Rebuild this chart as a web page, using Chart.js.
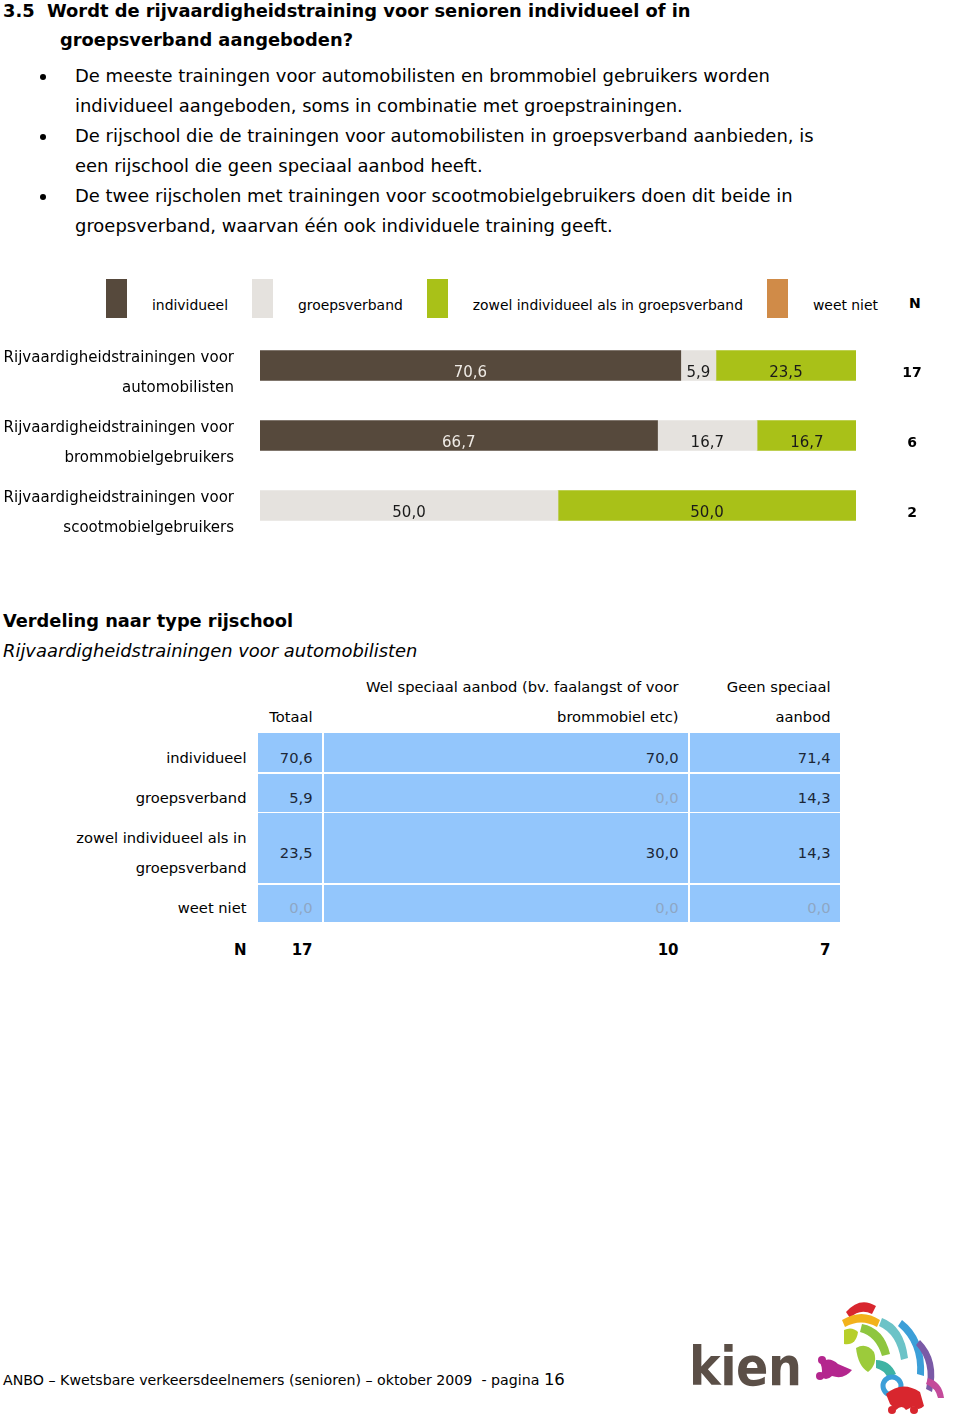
<!DOCTYPE html>
<html lang="nl">
<head>
<meta charset="utf-8">
<title>Rijvaardigheidstraining senioren</title>
<script src="https://cdn.jsdelivr.net/npm/chart.js@4.4.1/dist/chart.umd.min.js"></script>
<style>
  html, body { margin: 0; padding: 0; background: #fff; }
  body {
    width: 960px; height: 1415px; position: relative; overflow: hidden;
    font-family: "DejaVu Sans", Verdana, sans-serif; color: #000;
  }
  .abs { position: absolute; white-space: nowrap; }

  /* kop + bullets */
  .kop { font-weight: bold; font-size: 17.85px; line-height: 30px; }
  .bullet { font-size: 17.95px; line-height: 30px; left: 75px; }
  .dot { position: absolute; left: -35px; top: 13px; width: 6px; height: 6px; border-radius: 50%; background: #000; }

  /* legenda */
  #legend { left: 106px; top: 279px; display: flex; font-size: 13.9px; }
  #legend .item { display: flex; margin-right: 24px; }
  #legend .sw { width: 21px; height: 39px; margin-right: 25px; }
  #legend .txt { line-height: 39px; padding-top: 7px; }
  #nHead { left: 909px; top: 295px; font-weight: bold; font-size: 14px; }

  #chartBox { left: 0; top: 320px; width: 960px; height: 230px; }

  /* tabel */
  .titel { font-weight: bold; font-size: 17.8px; line-height: 30px; left: 3px; top: 606px; }
  .sub { font-style: italic; font-size: 17.9px; line-height: 30px; left: 3px; top: 636px; }
  #tabel {
    position: absolute; left: 0; top: 671.5px;
    display: grid;
    grid-template-columns: 256px 64px 364px 150px;
    grid-template-rows: 60px 39px 38px 70px 37.5px 42px;
    column-gap: 2px; row-gap: 1.5px;
    font-size: 14.7px; line-height: 30px;
  }
  #tabel > div {
    box-sizing: border-box; display: flex; align-items: center; justify-content: flex-end;
    text-align: right; padding: 10px 9.5px 0 0;
  }
  #tabel > div.kopcel { align-items: flex-end; padding-top: 0; }
  #tabel > div.cel { background: #93c6fc; color: #1c2636; }
  #tabel > div.nul { color: #8ea6c4; }
  #tabel > div.nrij { font-weight: bold; font-size: 15px; }

  .voet { left: 3px; top: 1368px; font-size: 14.2px; line-height: 24px; }
  .voet .pg { font-size: 16.5px; }
  .logo { left: 689px; top: 1337px; font-family: "DejaVu Sans Condensed", "DejaVu Sans", sans-serif; font-weight: bold; font-size: 53px; line-height: 60px; color: #5b4f47; letter-spacing: -0.5px; }
</style>
</head>
<body>

<div class="abs kop" style="left:3px; top:-4px;">3.5&nbsp; Wordt de rijvaardigheidstraining voor senioren individueel of in</div>
<div class="abs kop" style="left:60px; top:25px;">groepsverband aangeboden?</div>

<div class="abs bullet" style="top:61px;"><span class="dot"></span>De meeste trainingen voor automobilisten en brommobiel gebruikers worden<br>individueel aangeboden, soms in combinatie met groepstrainingen.</div>
<div class="abs bullet" style="top:121px;"><span class="dot"></span>De rijschool die de trainingen voor automobilisten in groepsverband aanbieden, is<br>een rijschool die geen speciaal aanbod heeft.</div>
<div class="abs bullet" style="top:181px;"><span class="dot"></span>De twee rijscholen met trainingen voor scootmobielgebruikers doen dit beide in<br>groepsverband, waarvan één ook individuele training geeft.</div>

<div id="legend" class="abs"></div>
<div id="nHead" class="abs">N</div>

<div id="chartBox" class="abs"><canvas id="barChart" width="960" height="230"></canvas></div>

<div class="abs titel">Verdeling naar type rijschool</div>
<div class="abs sub">Rijvaardigheidstrainingen voor automobilisten</div>
<div id="tabel"></div>

<div class="abs voet">ANBO – Kwetsbare verkeersdeelnemers (senioren) – oktober 2009 &nbsp;- pagina <span class="pg">16</span></div>
<div class="abs logo">kien</div>
<svg class="abs" style="left:816px; top:1290px;" width="142" height="124" viewBox="0 0 142 124">
  <path d="M30 22 q14 -16 30 -6 l-4 8 q-12 -6 -22 4z" fill="#d8262e"/>
  <path d="M26 30 q20 -12 38 0 l-3 7 q-16 -9 -32 0z" fill="#f2b21b"/>
  <path d="M28 40 q8 -4 14 2 q-2 14 -14 12z" fill="#b7cf2a"/>
  <path d="M46 34 q22 4 28 30 l-8 2 q-6 -20 -22 -24z" fill="#8ec63f"/>
  <path d="M66 28 q22 8 26 40 l-7 2 q-4 -26 -22 -34z" fill="#6cc3c7"/>
  <path d="M86 30 q24 18 22 56 l-7 -2 q2 -30 -19 -48z" fill="#3c9fd8"/>
  <path d="M104 50 q20 20 12 52 l-6 -3 q6 -26 -10 -44z" fill="#7a5aa6"/>
  <path d="M40 58 q10 -6 18 4 q4 12 -6 20 q-10 -6 -12 -24z" fill="#9ccb3b"/>
  <path d="M60 70 q14 0 20 14 l-8 4 q-4 -8 -12 -10z" fill="#3fb3a3"/>
  <circle cx="76" cy="96" r="9" fill="none" stroke="#3c9fd8" stroke-width="5"/>
  <path d="M4 72 q10 -6 18 2 l14 6 q-8 10 -20 6 q-6 6 -12 0 q4 -4 0 -14z" fill="#b4268e"/>
  <circle cx="6" cy="70" r="4" fill="#b4268e"/>
  <circle cx="4" cy="86" r="4" fill="#b4268e"/>
  <path d="M70 104 q16 -14 34 -2 l4 14 q-6 6 -10 0 l-8 4 q-4 -6 -10 0 l-6 -6z" fill="#d8262e"/>
  <circle cx="76" cy="120" r="4" fill="#d8262e"/>
  <circle cx="98" cy="120" r="4" fill="#d8262e"/>
  <path d="M112 88 q14 4 16 20 l-6 0 q-2 -10 -12 -14z" fill="#c44a9a"/>
</svg>

<script>
// --- DATA: stapelbalken ---
const categories = [
  ['Rijvaardigheidstrainingen voor', 'automobilisten'],
  ['Rijvaardigheidstrainingen voor', 'brommobielgebruikers'],
  ['Rijvaardigheidstrainingen voor', 'scootmobielgebruikers']
];
const seriesNames = ['individueel', 'groepsverband', 'zowel individueel als in groepsverband', 'weet niet'];
const individueel = [70.6, 66.7, 0];
const groepsverband = [5.9, 16.7, 50.0];
const zowel = [23.5, 16.7, 50.0];
const weetNiet = [0, 0, 0];
const nValues = [17, 6, 2];
const seriesColors = ['#56493c', '#e5e2de', '#a9c118', '#d08b48'];
const labelColors = ['#efebe6', '#1a1a1a', '#1a1a1a', '#1a1a1a'];

// --- DATA: tabel ---
const tableRows = ['individueel', 'groepsverband', 'zowel individueel als in groepsverband', 'weet niet'];
const tableCols = ['Totaal', 'Wel speciaal aanbod (bv. faalangst of voor brommobiel etc)', 'Geen speciaal aanbod'];
const totaal = [70.6, 5.9, 23.5, 0.0];
const welSpeciaal = [70.0, 0.0, 30.0, 0.0];
const geenSpeciaal = [71.4, 14.3, 14.3, 0.0];
const tableN = [17, 10, 7];

const fmt = v => v.toFixed(1).replace('.', ',');

// --- 1. LEGENDA ---
const legend = document.getElementById('legend');
seriesNames.forEach((name, i) => {
    const item = document.createElement('div');
    item.className = 'item';
    item.innerHTML = '<div class="sw" style="background:' + seriesColors[i] + '"></div><div class="txt">' + name + '</div>';
    legend.appendChild(item);
});

// --- 2. LABELS IN DE BALKEN + N-KOLOM ---
const barLabels = {
    id: 'barLabels',
    afterDatasetsDraw(chart) {
        const ctx = chart.ctx;
        ctx.save();
        ctx.textAlign = 'center';
        ctx.textBaseline = 'middle';
        ctx.font = '15px "DejaVu Sans"';
        chart.data.datasets.forEach((ds, i) => {
            chart.getDatasetMeta(i).data.forEach((bar, j) => {
                const v = ds.data[j];
                if (!v) return;
                ctx.fillStyle = labelColors[i];
                ctx.fillText(fmt(v), (bar.base + bar.x) / 2, bar.y + 8);
            });
        });
        ctx.font = 'bold 14px "DejaVu Sans"';
        ctx.fillStyle = '#000';
        nValues.forEach((n, j) => {
            ctx.fillText(String(n), chart.chartArea.right + 56, chart.scales.y.getPixelForValue(j) + 8);
        });
        ctx.restore();
    }
};

const seriesData = [individueel, groepsverband, zowel, weetNiet];
new Chart(document.getElementById('barChart'), {
    type: 'bar',
    data: {
        labels: categories,
        datasets: seriesNames.map((name, i) => ({
            label: name,
            // nulwaarden niet tekenen (anders blijft er een haarlijntje staan)
            data: seriesData[i].map(v => v || null),
            backgroundColor: seriesColors[i],
            borderWidth: 0,
            barThickness: 30
        }))
    },
    options: {
        indexAxis: 'y',
        responsive: false,
        animation: false,
        layout: { padding: { left: 0, right: 104, top: 10.5, bottom: 9.5 } },
        plugins: { legend: { display: false }, tooltip: { enabled: false } },
        scales: {
            x: { stacked: true, display: false, min: 0, max: 100 },
            y: {
                stacked: true,
                grid: { display: false, drawTicks: false },
                border: { display: false },
                ticks: {
                    padding: 26, labelOffset: 7.5, color: '#000',
                    font: { family: 'DejaVu Sans', size: 15, lineHeight: 2 }
                },
                afterFit(scale) {
                    scale.width = 260;
                    scale.paddingTop = 0;
                    scale.paddingBottom = 0;
                }
            }
        }
    },
    plugins: [barLabels]
});

// --- 3. TABEL ---
const tabel = document.getElementById('tabel');
function addCell(text, cls) {
    const d = document.createElement('div');
    d.className = cls || '';
    d.innerHTML = text;
    tabel.appendChild(d);
}
addCell('', 'kopcel');
tableCols.forEach(c => addCell(c, 'kopcel'));
const tableData = [totaal, welSpeciaal, geenSpeciaal];
tableRows.forEach((r, i) => {
    addCell(r, '');
    tableData.forEach(col => addCell(fmt(col[i]), col[i] === 0 ? 'cel nul' : 'cel'));
});
addCell('N', 'nrij');
tableN.forEach(n => addCell(String(n), 'nrij'));
</script>
</body>
</html>
